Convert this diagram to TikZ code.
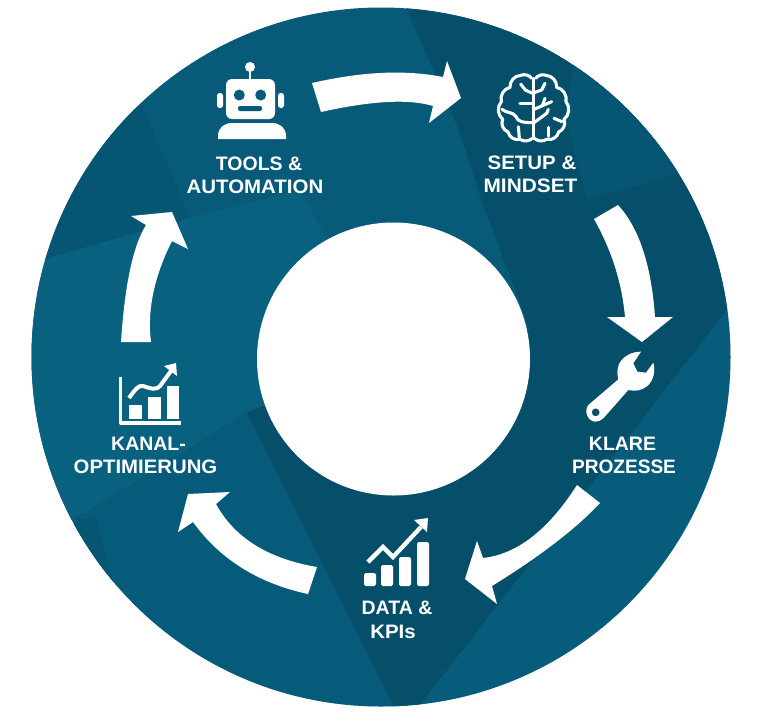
\documentclass[tikz,border=0pt]{standalone}
\usepackage{fontspec}
\usepackage{graphicx}
\setmainfont{Liberation Sans}
\definecolor{base}{HTML}{085A79}
\definecolor{darkf}{HTML}{054F6A}
\definecolor{midf}{HTML}{065572}
\definecolor{lightf}{HTML}{07617F}
\tikzset{
  facet/.style={draw=none},
  arrowshape/.style={fill=white,draw=none},
  lbl/.style={text=white,font=\bfseries\fontsize{14.6}{18}\selectfont,inner sep=0pt,anchor=center},
  ink/.style={draw=white,line width=2.3pt,line cap=round,line join=round},
  zoomed/.style={x=0.25pt,y=-0.25pt},
}
\begin{document}
\begin{tikzpicture}[x=0.75pt,y=-0.75pt]
\useasboundingbox (0,0) rectangle (768,719);
\fill[white] (0,0) rectangle (768,719);
% disc
\begin{scope}
\clip (381,357) circle[radius=349.5];
\fill[base] (0,0) rectangle (768,719);
\fill[lightf,facet] (51,257) -- (200,215) -- (300,190) -- (393,359) -- (247,412) -- (76,518) -- (0,560) -- (0,260) -- cycle;
\fill[lightf,facet,opacity=.35] (416,710) -- (729,307) -- (768,280) -- (768,719) -- cycle;
\fill[lightf,facet,opacity=.25] (96,518) -- (247,412) -- (396,710) -- (100,719) -- cycle;
\fill[darkf,facet] (403,0) -- (460,133) -- (482,202) -- (530,330) -- (393,359) -- (247,412) -- (396,710) -- (416,710) -- (729,307) -- (768,270) -- (768,0) -- cycle;
\fill[midf,facet] (565,118) -- (587,200) -- (690,170) -- (768,150) -- (640,0) -- (580,30) -- cycle;
\fill[midf,facet] (142,105) -- (190,217) -- (51,257) -- (0,280) -- (0,150) -- cycle;
\fill[midf,facet] (76,518) -- (96,518) -- (118,600) -- (60,560) -- cycle;
\end{scope}
\fill[white] (393.5,359) circle[radius=136.5];
% arrows
\fill[arrowshape] (312,83) .. controls (359,72.3) and (402,69) .. (443,77) -- (447,61) -- (461,98) -- (429,123) -- (433,106) .. controls (409,98.7) and (371.7,100.7) .. (321,112) -- cycle;
\fill[arrowshape] (618,205) .. controls (639,227.7) and (651.3,265) .. (655,317) -- (673,317) -- (642,342) -- (607,317) -- (625,317) .. controls (622,283) and (611.7,250.3) .. (594,219) -- cycle;
\fill[arrowshape] (600,503) .. controls (576,528.7) and (540,556.3) .. (492,586) -- (497,604) -- (465,579) -- (477,541) -- (483,558) .. controls (517,554.3) and (548.3,530) .. (577,485) -- cycle;
\fill[arrowshape] (308,594) .. controls (258.3,583.3) and (220,559.3) .. (193,522) -- (178,532) -- (188,494) -- (230,492) -- (216,504) .. controls (234.3,537.7) and (268,558.7) .. (317,567) -- cycle;
\fill[arrowshape] (121,342) .. controls (124.7,285) and (133,246) .. (146,225) -- (131,216) -- (172,212) -- (188,249) -- (172,241) .. controls (154,276.7) and (147,311) .. (151,342) -- cycle;
% robot
\fill[white] (250,67) circle[radius=5];
\draw[white,line width=1.8pt] (250,70) -- (250,80);
\fill[white,rounded corners=4.5pt] (226,79) rectangle (275,119);
\fill[base] (239.3,95) circle[radius=5.5] (260.7,95) circle[radius=5.5];
\fill[base,rounded corners=1.5pt] (238,106) -- (262,106) -- (262,111) -- (238,111) -- cycle;
\fill[white,rounded corners=2pt] (217,93) rectangle (223,108);
\fill[white,rounded corners=2pt] (278,93) rectangle (284,108);
\fill[white] (218,139) -- (218,136) .. controls (218,128) and (224,123) .. (232,123) -- (272,123) .. controls (280,123) and (286,128) .. (286,136) -- (286,139) -- cycle;
% brain
\begin{scope}[shift={(480,70)},zoomed]
\draw[ink] (155,25) to[bend right=35] (122,16) to[bend right=45] (90,52) to[bend right=45] (64,95) to[bend right=45] (68,148) to[bend right=45] (84,186) to[bend right=45] (120,208) to[bend right=35] (157,205);
\draw[ink] (167,25) to[bend left=35] (198,16) to[bend left=45] (230,52) to[bend left=45] (258,95) to[bend left=45] (252,148) to[bend left=45] (236,186) to[bend left=45] (200,208) to[bend left=35] (163,205);
\draw[ink] (160,25) -- (160,205);
\draw[ink] (122,42) -- (136,60) -- (158,70);
\draw[ink] (120,100) -- (158,100);
\draw[ink] (66,118) .. controls (80,130) and (100,125) .. (108,140) .. controls (112,155) and (130,158) .. (158,158);
\draw[ink] (115,170) -- (118,203);
\draw[ink] (195,40) -- (185,60) -- (162,68);
\draw[ink] (162,118) -- (215,95);
\draw[ink] (188,105) -- (195,85);
\draw[ink] (162,158) -- (200,130) -- (205,118);
\draw[ink] (222,145) -- (246,155);
\draw[ink] (205,172) -- (205,200);
\end{scope}
% wrench
\begin{scope}[shift={(560,340)},zoomed]
\fill[white,even odd rule] (130,235) -- (205,150) .. controls (225,155) and (245,152) .. (262,138) .. controls (280,122) and (287,95) .. (280,68) -- (258,98) -- (232,95) -- (220,70) -- (243,35) .. controls (215,35) and (190,48) .. (177,72) .. controls (170,90) and (172,105) .. (175,118) -- (85,195) .. controls (70,215) and (85,245) .. (107,245) .. controls (115,245) and (125,240) .. (130,235) -- cycle (107,217) circle[radius=12];
\end{scope}
% data chart
\fill[white,rounded corners=1.2pt] (364,573) rectangle (376,586);
\fill[white,rounded corners=1.2pt] (381,565) rectangle (393,586);
\fill[white,rounded corners=1.2pt] (399,557) rectangle (411,586);
\fill[white,rounded corners=1.2pt] (417,542) rectangle (429,586);
\draw[white,line width=3.2pt,line join=miter] (368,562) -- (383,547) -- (393,557) -- (421,527);
\fill[white] (414,520) -- (428,518) -- (427,532) -- cycle;
% channel chart
\draw[white,line width=2.3pt,line join=round] (120.7,377) -- (120.7,423) -- (181,423);
\fill[white] (129,405) rectangle (142,419);
\fill[white] (148,397) rectangle (161,419);
\fill[white] (167,386) rectangle (179,419);
\draw[white,line width=3pt] (129,398) .. controls (135,390) and (138,385) .. (143,386) .. controls (150,388) and (155,391) .. (160,386) -- (171,371);
\fill[white] (164,366) -- (176,363) -- (177,376) -- cycle;
% labels
\node[lbl] (tools1) at (259,164) {TOOLS \&};
\node[lbl] (tools2) at (255,187) {\scalebox{1.05}[1]{AUTOMATION}};
\node[lbl] (setup1) at (532,163) {\scalebox{1.05}[1]{SETUP \&}};
\node[lbl] (setup2) at (530.5,186) {\scalebox{1.07}[1]{MINDSET}};
\node[lbl] (klare1) at (622.5,444) {KLARE};
\node[lbl] (klare2) at (624,467) {\scalebox{.98}[1]{PROZESSE}};
\node[lbl] (data1) at (397,608) {DATA \&};
\node[lbl] (data2) at (393,632) {\scalebox{1.05}[1]{KPIs}};
\node[lbl] (kanal1) at (148.5,444) {KANAL-};
\node[lbl] (kanal2) at (145.5,467) {\scalebox{1.045}[1]{OPTIMIERUNG}};
\end{tikzpicture}
\end{document}
